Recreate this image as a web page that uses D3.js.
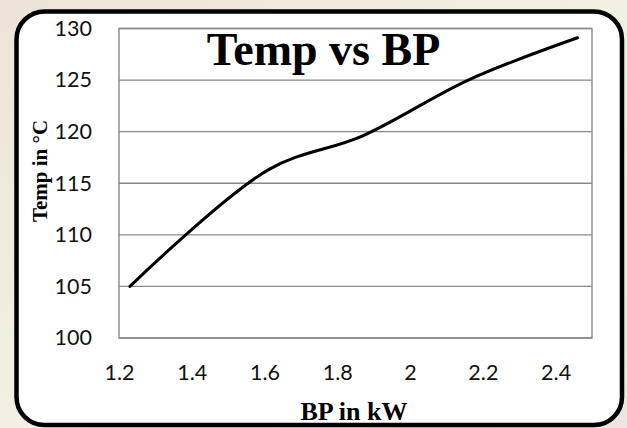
<!DOCTYPE html>
<html>
<head>
<meta charset="utf-8">
<script src="https://cdn.jsdelivr.net/npm/d3@7"></script>
<style>
  html, body { margin: 0; padding: 0; }
  body { width: 627px; height: 428px; overflow: hidden; }
</style>
</head>
<body>
<svg id="chart" width="627" height="428"></svg>
<script>
// ---- data ----
const bp = [1.23, 1.61, 1.87, 2.16, 2.46];          // BP in kW
const temp = [105, 116.3, 119.6, 125, 129.1];        // Temp in °C
const xTicks = [1.2, 1.4, 1.6, 1.8, 2.0, 2.2, 2.4];
const xTickLabels = ["1.2", "1.4", "1.6", "1.8", "2", "2.2", "2.4"];
const yTicks = [100, 105, 110, 115, 120, 125, 130];
const yTickLabels = ["100", "105", "110", "115", "120", "125", "130"];
const chartTitle = "Temp vs BP";
const xTitle = "BP in kW";
const yTitle = "Temp in \u00B0C";

// ---- layout ----
const W = 627, H = 428;
const plot = { left: 119, right: 592, top: 28.5, bottom: 338 };

const svg = d3.select("#chart");

// background
const defs = svg.append("defs");
const bg = defs.append("linearGradient").attr("id", "bg").attr("x1", 0).attr("y1", 0).attr("x2", 1).attr("y2", 1);
bg.append("stop").attr("offset", "0%").attr("stop-color", "#ede3d8");
bg.append("stop").attr("offset", "50%").attr("stop-color", "#f3f0e3");
bg.append("stop").attr("offset", "100%").attr("stop-color", "#ede6de");
svg.append("rect").attr("width", W).attr("height", H).attr("fill", "url(#bg)");

// chart frame
svg.append("rect")
  .attr("x", 16.5).attr("y", 11.5)
  .attr("width", 622 - 16.5).attr("height", 425 - 11.5)
  .attr("rx", 28).attr("ry", 28)
  .attr("fill", "#ffffff")
  .attr("stroke", "#000000")
  .attr("stroke-width", 4.5);

const x = d3.scaleLinear().domain([1.2, 2.5]).range([plot.left, plot.right]);
const y = d3.scaleLinear().domain([100, 130]).range([plot.bottom, plot.top]);

// gridlines
svg.append("g")
  .selectAll("line")
  .data(yTicks)
  .join("line")
  .attr("x1", plot.left).attr("x2", plot.right)
  .attr("y1", d => y(d)).attr("y2", d => y(d))
  .attr("stroke", "#898989")
  .attr("stroke-width", 1.4);

// plot area border
svg.append("rect")
  .attr("x", plot.left).attr("y", plot.top)
  .attr("width", plot.right - plot.left).attr("height", plot.bottom - plot.top)
  .attr("fill", "none")
  .attr("stroke", "#898989")
  .attr("stroke-width", 1.4);

// axes
const tickFont = "Lato, 'Open Sans', sans-serif";
const yAxis = d3.axisLeft(y)
  .tickValues(yTicks)
  .tickFormat((d, i) => yTickLabels[i])
  .tickSize(0)
  .tickPadding(27);
const gy = svg.append("g").attr("transform", `translate(${plot.left},0)`).call(yAxis);
gy.select(".domain").remove();
gy.selectAll("text").attr("font-family", tickFont).attr("font-size", 21.5).attr("fill", "#111");

const xAxis = d3.axisBottom(x)
  .tickValues(xTicks)
  .tickFormat((d, i) => xTickLabels[i])
  .tickSize(0)
  .tickPadding(27);
const gx = svg.append("g").attr("transform", `translate(0,${plot.bottom})`).call(xAxis);
gx.select(".domain").remove();
gx.selectAll("text").attr("font-family", tickFont).attr("font-size", 21.5).attr("fill", "#111");

// line
const pts = bp.map((b, i) => [b, temp[i]]);
const line = d3.line()
  .x(d => x(d[0]))
  .y(d => y(d[1]))
  .curve(d3.curveCatmullRom.alpha(0.5));
svg.append("path")
  .datum(pts)
  .attr("d", line)
  .attr("fill", "none")
  .attr("stroke", "#000")
  .attr("stroke-width", 3)
  .attr("stroke-linecap", "round")
  .attr("stroke-linejoin", "round");

// titles
const serif = "'Liberation Serif', 'Times New Roman', serif";
svg.append("text")
  .attr("x", 323.5).attr("y", 65)
  .attr("text-anchor", "middle")
  .attr("font-family", serif)
  .attr("font-weight", "bold")
  .attr("font-size", 46)
  .text(chartTitle);

svg.append("text")
  .attr("x", 354).attr("y", 420)
  .attr("text-anchor", "middle")
  .attr("font-family", serif)
  .attr("font-weight", "bold")
  .attr("font-size", 26)
  .text(xTitle);

svg.append("text")
  .attr("transform", "translate(47,171) rotate(-90)")
  .attr("text-anchor", "middle")
  .attr("font-family", serif)
  .attr("font-weight", "bold")
  .attr("font-size", 21)
  .text(yTitle);
</script>
</body>
</html>
